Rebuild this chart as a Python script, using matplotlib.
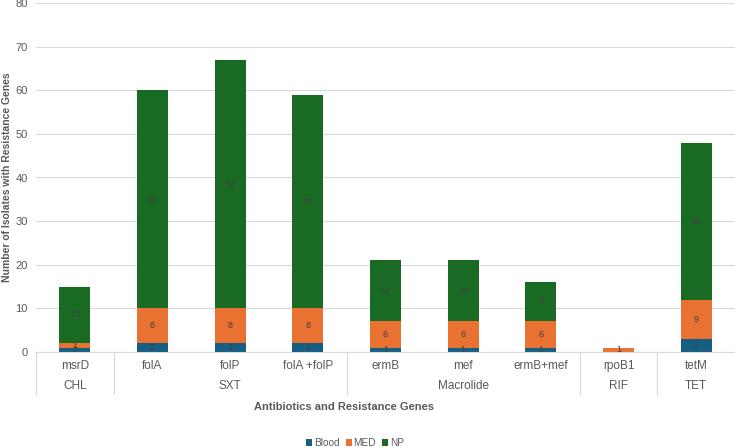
import numpy as np
import matplotlib.pyplot as plt
import matplotlib.transforms as mtransforms

plt.rcParams['font.family'] = ['Liberation Sans', 'DejaVu Sans']

genes = ['msrD', 'folA', 'folP', 'folA +folP', 'ermB', 'mef', 'ermB+mef', 'rpoB1', 'tetM']
groups = ['CHL', 'SXT', 'Macrolide', 'RIF', 'TET']
group_sizes = [1, 3, 3, 1, 1]
blood = [1, 2, 2, 2, 1, 1, 1, 0, 3]
med = [1, 8, 8, 8, 6, 6, 6, 1, 9]
np_vals = [13, 50, 57, 49, 14, 14, 9, 0, 36]

series = [('Blood', blood, '#156082'), ('MED', med, '#E97132'), ('NP', np_vals, '#196B24')]

grey = '#595959'
fig = plt.figure(figsize=(7.35, 4.48), dpi=100)
ax = fig.add_axes([36 / 735, 1 - 352 / 448, 1 - 36 / 735, 349 / 448])

x = np.arange(len(genes))
bottom = np.zeros(len(genes))
for name, vals, color in series:
    vals = np.array(vals, dtype=float)
    ax.bar(x, vals, width=0.4, bottom=bottom, color=color, label=name, zorder=3)
    for xi, b, v in zip(x, bottom, vals):
        if v > 0:
            ax.text(xi, b + v / 2, f'{int(v)}', ha='center', va='center',
                    fontsize=6.5, color='#404040', zorder=4)
    bottom += vals

ax.set_xlim(-0.5, len(genes) - 0.5)
ax.set_ylim(0, 80)
ax.set_yticks(range(0, 81, 10))
ax.yaxis.grid(True, color='#D9D9D9', linewidth=0.8, zorder=0)
ax.tick_params(axis='y', length=0, labelsize=8, colors=grey, pad=6)
ax.set_xticks([])
for s in ['top', 'right', 'left']:
    ax.spines[s].set_visible(False)
ax.spines['bottom'].set_color('#D9D9D9')
ax.spines['bottom'].set_zorder(5)

ax.set_ylabel('Number of Isolates with Resistance Genes', fontsize=7.5,
              fontweight='bold', color=grey)
ax.yaxis.set_label_coords(-0.034, 0.5)

# two-level category labels
trans = mtransforms.blended_transform_factory(ax.transData, ax.transAxes)
px = 1 / 349
for xi, g in zip(x, genes):
    ax.text(xi, -14 * px, g, transform=trans, ha='center', va='center',
            fontsize=8.5, color=grey)
edges = np.concatenate([[0], np.cumsum(group_sizes)]) - 0.5
for i, g in enumerate(groups):
    mid = (edges[i] + edges[i + 1]) / 2
    ax.text(mid, -34 * px, g, transform=trans, ha='center', va='center',
            fontsize=8.5, color=grey)
for e in edges[:-1]:
    ax.plot([e, e], [0, -42 * px], transform=trans, color='#D9D9D9',
            linewidth=0.8, clip_on=False)

fig.text(344 / 735, 1 - 407 / 448, 'Antibiotics and Resistance Genes', ha='center',
         va='center', fontsize=8, fontweight='bold', color=grey)

fig.legend(loc='center', bbox_to_anchor=(355 / 735, 1 - 443 / 448), ncol=3,
           frameon=False, fontsize=7.2, handlelength=0.6, handleheight=0.6,
           handletextpad=0.2, columnspacing=0.6, labelcolor=grey)

fig.savefig('out.png', dpi=100)
